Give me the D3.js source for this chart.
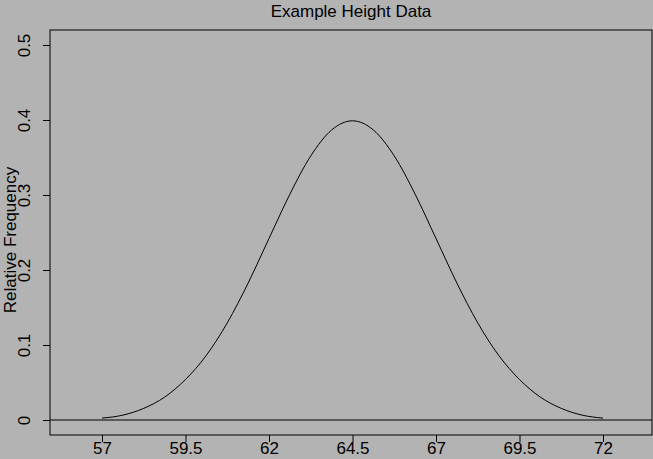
<!DOCTYPE html>
<html><head><meta charset="utf-8">
<script src="https://cdn.jsdelivr.net/npm/d3@7"></script>
<style>body{margin:0;background:#b3b3b3}svg{display:block}text{font-family:"Liberation Sans",Arial,sans-serif;fill:#000}</style>
</head><body>
<script>
const heights = [57,57.625,58.25,58.875,59.5,60.125,60.75,61.375,62,62.625,63.25,63.875,64.5,65.125,65.75,66.375,67,67.625,68.25,68.875,69.5,70.125,70.75,71.375,72];
const freqs = [0.0025,0.0065,0.0155,0.0305,0.054,0.0863,0.1295,0.1826,0.242,0.3011,0.3521,0.3867,0.3989,0.3867,0.3521,0.3011,0.242,0.1826,0.1295,0.0863,0.054,0.0305,0.0155,0.0065,0.0025];
const xTicks = [57,59.5,62,64.5,67,69.5,72];
const xTickLabels = ["57","59.5","62","64.5","67","69.5","72"];
const yTicks = [0,0.1,0.2,0.3,0.4,0.5];
const yTickLabels = ["0","0.1","0.2","0.3","0.4","0.5"];

const W=653,H=459;
const svg=d3.select("body").append("svg").attr("width",W).attr("height",H);
svg.append("rect").attr("width",W).attr("height",H).attr("fill","#b3b3b3");
const x=d3.scaleLinear().domain([57,72]).range([102,603]);
const y=d3.scaleLinear().domain([0,0.5]).range([420,45]);
const L=50,R=652,T=30,B=435;
svg.append("rect").attr("x",L).attr("y",T).attr("width",R-L).attr("height",B-T).attr("fill","none").attr("stroke","#000");
const xa=svg.append("g").attr("transform",`translate(0,${B})`)
 .call(d3.axisBottom(x).tickValues(xTicks).tickFormat((d,i)=>xTickLabels[i]).tickSize(7).tickSizeOuter(0));
xa.select(".domain").remove();
xa.selectAll("text").attr("font-size",17).attr("dy","0.8em").attr("y",5);
const ya=svg.append("g").attr("transform",`translate(${L},0)`)
 .call(d3.axisLeft(y).tickValues(yTicks).tickFormat((d,i)=>yTickLabels[i]).tickSize(7).tickSizeOuter(0));
ya.select(".domain").remove();
ya.selectAll(".tick text").attr("font-size",17).attr("x",null).attr("dy",null)
 .attr("text-anchor","middle").attr("transform","translate(-20,0) rotate(-90)");
svg.append("line").attr("x1",L).attr("x2",R).attr("y1",y(0)).attr("y2",y(0)).attr("stroke","#000");
const pts=heights.map((h,i)=>[h,freqs[i]]);
svg.append("path").datum(pts).attr("fill","none").attr("stroke","#000").attr("stroke-width",1)
 .attr("d",d3.line().x(d=>x(d[0])).y(d=>y(d[1])).curve(d3.curveMonotoneX));
svg.append("text").attr("x",351).attr("y",17).attr("text-anchor","middle").attr("font-size",17).text("Example Height Data");
svg.append("text").attr("transform","translate(16,240) rotate(-90)").attr("text-anchor","middle").attr("font-size",17).text("Relative Frequency");
</script>
</body></html>
